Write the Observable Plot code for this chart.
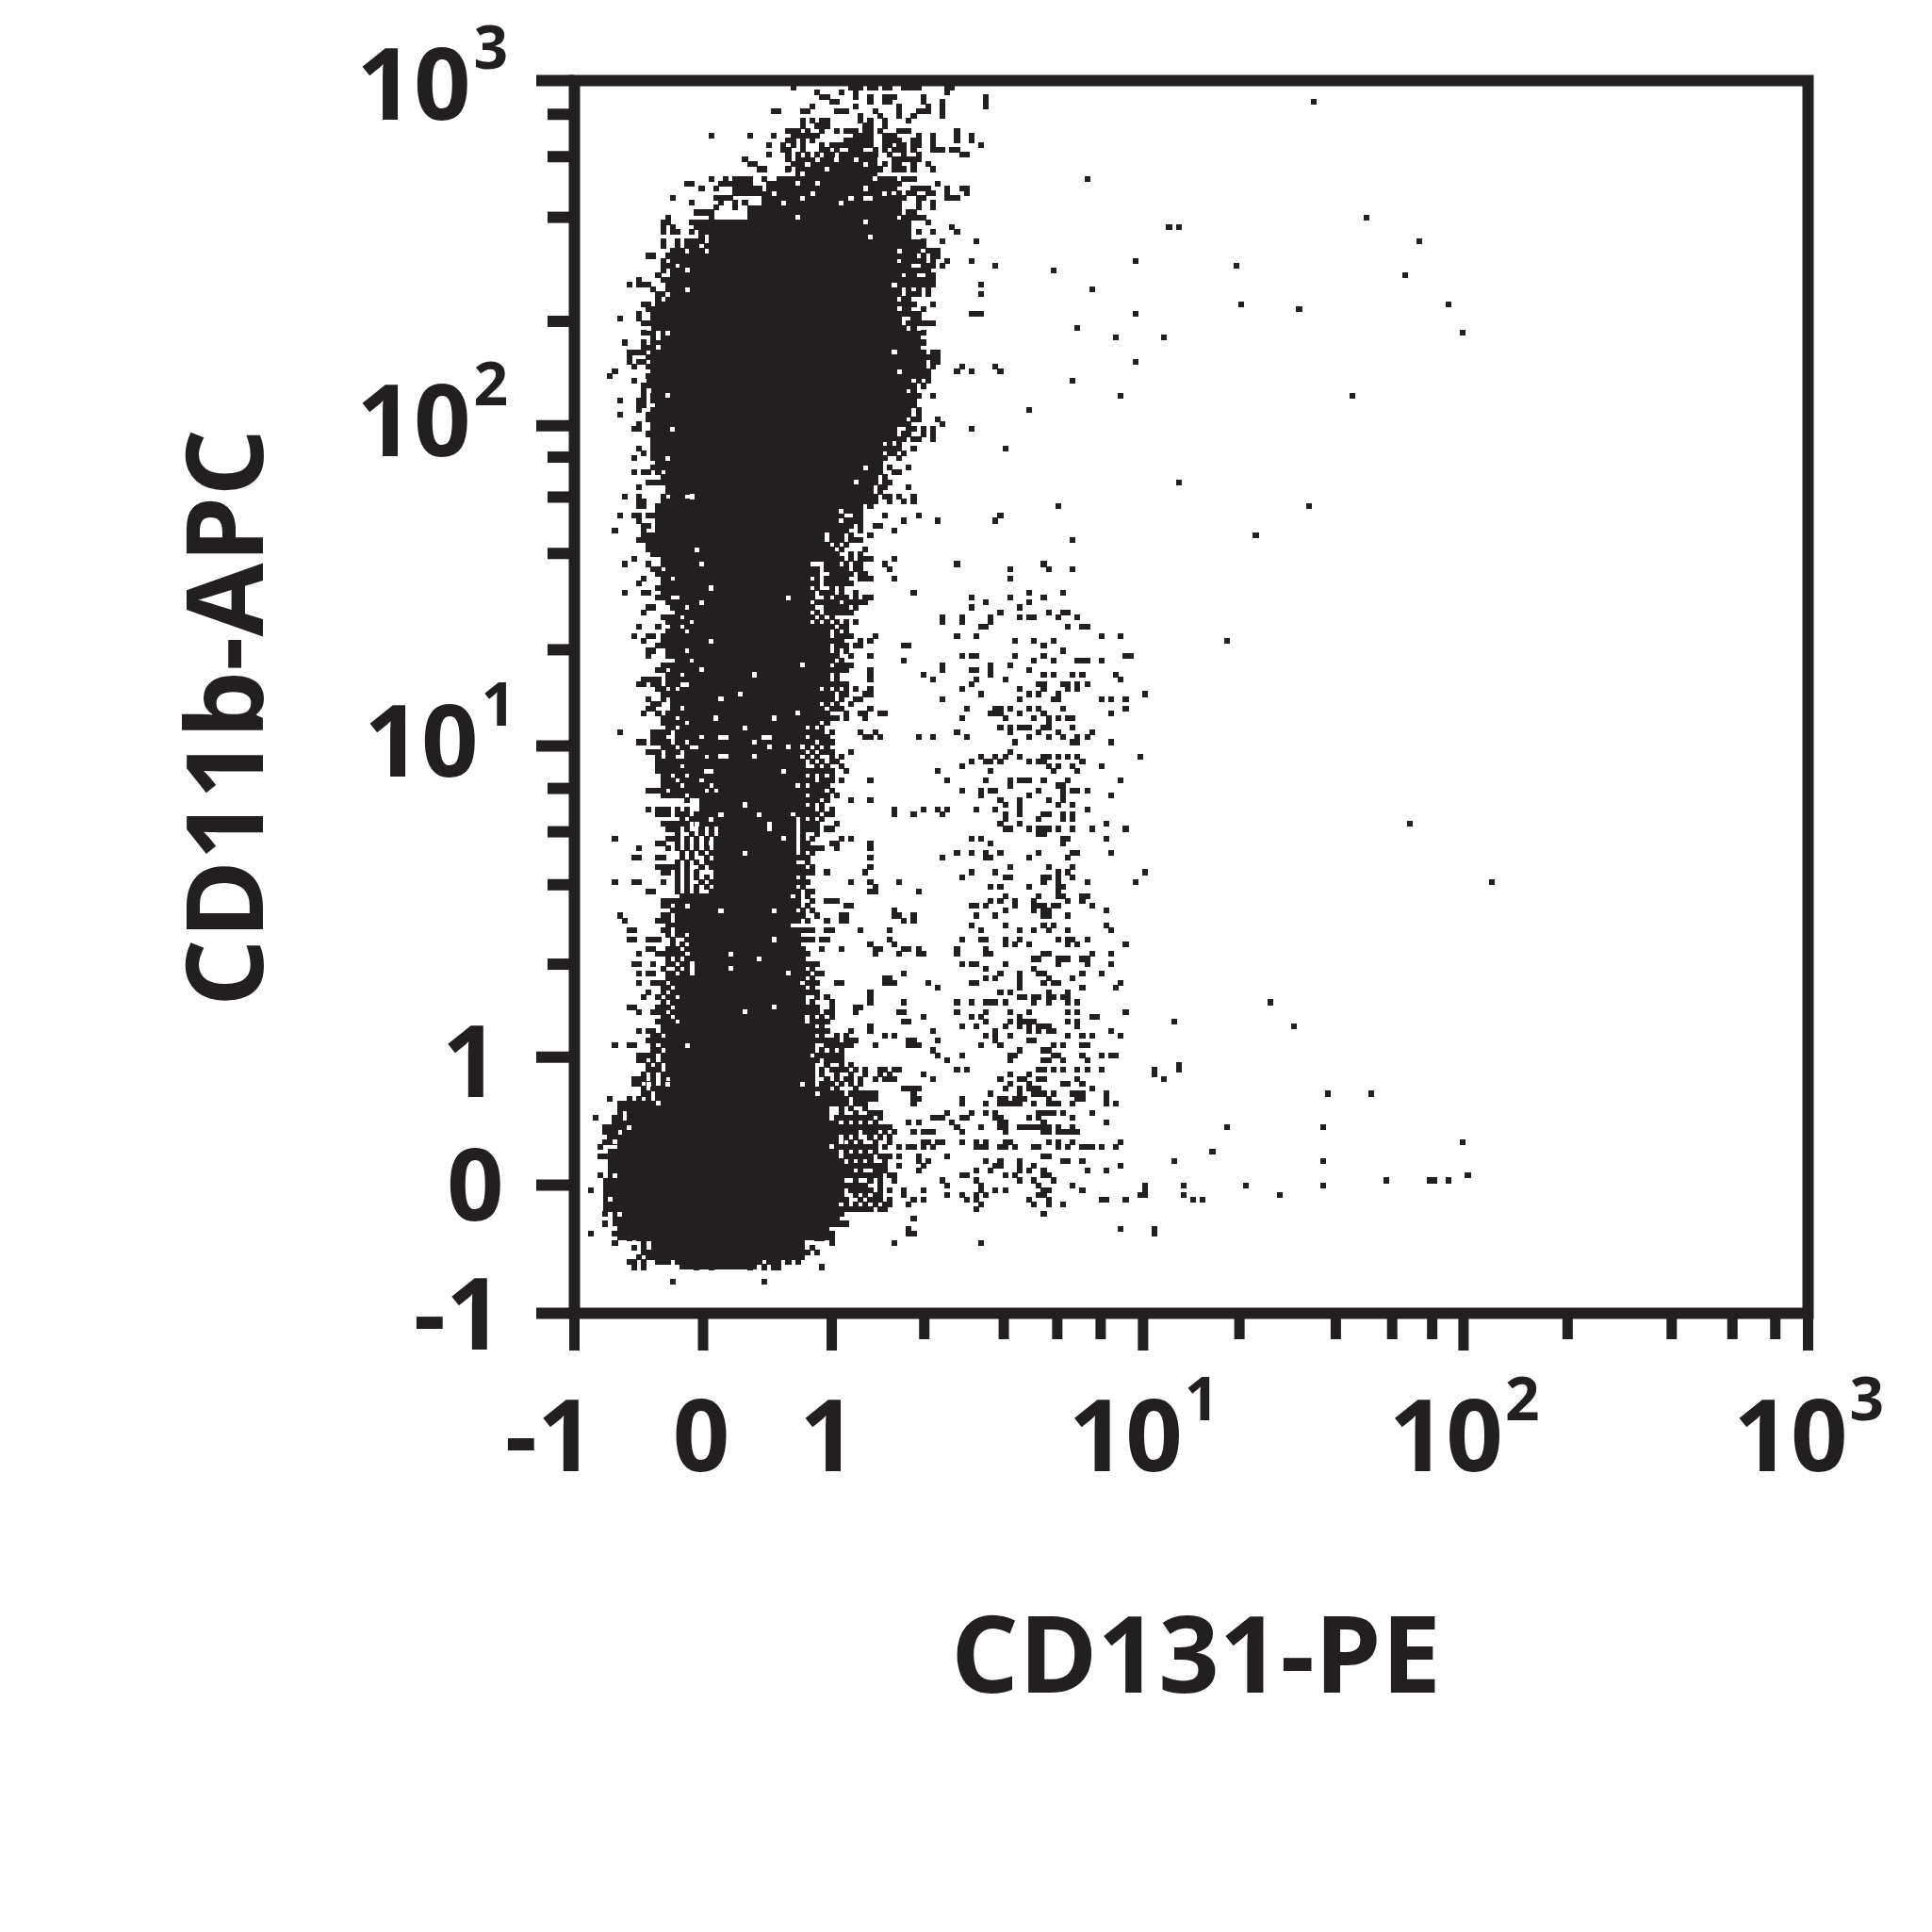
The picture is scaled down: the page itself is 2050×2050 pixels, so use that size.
<!DOCTYPE html>
<html><head><meta charset="utf-8">
<script src="https://cdn.jsdelivr.net/npm/d3@7"></script>
<script src="https://cdn.jsdelivr.net/npm/@observablehq/plot@0.6"></script>
<style>html,body{margin:0;padding:0;background:#fff}svg{display:block}</style>
</head><body><div id="chart"></div>
<script>
// All event positions are instrument channels (0-255) on both axes.
const xMajorTicks=[0,26.7,53.4,118,184.5,256];
const xMinorTicks=[72.6,89.1,100.2,109.2,138,158,169.7,178,206.1,227.7,240.3,249.2];
const yMajorTicks=[0,26.6,53.2,117.8,184.3,256];
const yMinorTicks=[72.5,89,100,109,137.8,157.8,169.5,177.8,206,227.6,240.2,249];
const plainLabels=["-1","0","1"];
const powerBase="10";
const powerExponents=["1","2","3"];

// Solid population core: [top row, bottom row, first column, last column]
const coreBands=[[239,236,46,62],[235,233,41,66],[232,230,39,65],[229,227,36,65],[226,223,28,69],[222,220,28,71],[219,217,22,66],[216,214,21,66],[213,210,20,66],[209,204,18,67],[203,201,18,71],[200,194,17,71],[193,191,15,67],[190,184,18,67],[183,181,18,66],[180,178,18,62],[177,174,20,62],[173,171,21,60],[170,168,24,60],[167,166,22,58],[165,162,22,54],[161,156,22,51],[155,153,23,48],[152,149,24,48],[148,143,26,48],[142,140,26,51],[139,136,28,51],[135,133,27,52],[132,130,28,51],[129,126,22,49],[125,123,24,48],[122,120,25,46],[119,110,29,46],[109,107,30,45],[106,104,26,46],[103,100,31,44],[99,97,30,44],[96,94,29,44],[93,91,28,44],[90,87,29,44],[86,81,22,44],[80,80,19,44],[79,76,25,41],[75,73,24,46],[72,70,25,47],[69,63,22,46],[62,60,22,47],[59,57,20,48],[56,53,19,48],[52,47,20,48],[46,44,18,51],[43,40,11,52],[39,37,10,54],[36,34,9,54],[33,31,7,54],[30,28,7,57],[27,24,6,54],[23,21,6,54],[20,18,8,53],[17,15,9,52],[14,11,16,47],[10,9,22,37]];

// Empty bins inside the core: [row, column]
const coreGaps=[[239,50],[239,54],[239,58],[238,48],[238,60],[237,52],[235,41],[236,45],[236,47],[234,46],[234,50],[232,41],[232,49],[231,38],[231,47],[230,43],[230,55],[231,57],[231,60],[231,61],[235,62],[233,60],[232,64],[227,30],[227,32],[227,35],[227,46],[226,60],[223,61],[216,23],[212,23],[220,67],[213,66],[208,67],[211,19],[204,15],[203,19],[202,17],[200,17],[199,66],[195,67],[191,15],[190,19],[183,20],[177,19],[169,24],[175,60],[172,58],[166,55],[158,25],[155,26],[147,26],[150,28],[148,44],[139,28],[134,47],[133,26],[132,37],[127,30],[128,34],[123,29],[123,41],[124,46],[121,35],[119,30],[119,31],[119,39],[119,40],[118,37],[117,40],[117,44],[117,47],[115,30],[115,31],[115,37],[112,27],[112,28],[112,43],[105,35],[103,30],[103,38],[102,28],[101,40],[101,25],[100,40],[98,26],[97,28],[98,43],[95,35],[92,24],[91,27],[91,28],[83,30],[83,41],[84,23],[77,41],[74,32],[73,38],[71,32],[70,44],[62,35],[63,41],[55,23],[47,47],[47,19],[47,15],[45,50],[43,17],[38,11],[35,8],[34,53],[35,55],[28,8],[23,7],[20,9]];

// Scattered bins, each row written as [row, column, column, ...]
const fringeTop=[[254,45,57,58,59,61,62,64,65,68,69,70,71,77,78],[253,50,55,58,77],[252,51,52,58,61,64,65,66,72,85],[251,53,54,61,64,65,72,76,85],[250,49,58,67,73,76,85],[249,41,42,47,48,54,55,56,62,67,71,72,73,76],[248,59,63,67,70,76],[247,47,49,51,52,59,61,64,69],[246,47,50,51,52,60,61,64],[245,44,45,46,48,51,54,56,57,58,60,61,63,67,68,69,79],[244,28,36,41,45,46,47,48,49,50,58,59,60,61,64,65,66,71,74,79,82],[243,44,45,47,49,56,57,58,59,60,61,64,65,66,67,70,71,74,79,82],[242,40,43,45,47,51,53,54,55,56,57,58,59,60,61,64,65,67,68,70,71,74,84],[241,43,44,47,51,52,54,57,58,59,62,64,66,67,68,70,74,75,76,78,79],[240,40,44,46,48,50,52,53,55,56,57,58,59,60,61,62,65,68,71,80,81],[239,35,44,66,67,68,69,70,71],[238,36,37,45,64,66,67,70,73],[237,38,39,44,63,66,67,68,70,74],[235,28,31,33,34,35,36,39,68,69,70],[234,23,24,30,31,32,33,34,35,36,40,67,75],[233,26,29,33,34,35,36,37,38,40,70,71,72,73,77,80,81],[232,33,34,35,36,37,38,67,69,70,73,74,77,81],[231,20,29,30,31,32,66,67,68,71,72,77,78,79],[230,24,30,33,35,66,67,71,74],[229,29,33,66,67,71,74],[228,25,26,27,28,66,67,69,70],[227,19,28,66,68,69,70,71,72],[226,18,19,24,25,27,73],[225,18,20,25,26,78],[224,18,20,21,26,71,74,79],[222,18,21,24,25,72,76,83],[221,18,21,23,24,72],[220,20,21,24,26,73,74,75],[219,15,16,20,67,68,74,75],[218,18,69,70,77,82],[217,18,67,68,72,76,87],[216,18,67,68,69,70,71,72],[214,13,18,19,68,69,71,72,73,74],[213,11,13,14,15,68,70,73,74,84],[211,17,18,69,73,84],[209,14,15,68,74],[208,15,16],[207,13,68,69,82,83,84],[206,9,13],[205,14,15,16,17,69,72,73,74],[203,14,15,16,72],[201,10,14,72],[199,11,12,13,14,74,75],[198,11,73,74,75],[197,11,13,14,74,75],[196,12,80,87],[195,8,72,79,82,88],[194,7,72],[193,12],[192,14,15,68,69],[190,14,68,71,74],[189,9,13,14,68],[188,13,14,69],[187,13,68,71],[186,9,15,16,71],[185,15,16,17,75],[184,13,76],[183,12,13,72,74,82],[182,15,16,17,74],[181,17,64,65,67,68,74],[179,13,17,64,65,66,89],[178,14,61,62],[177,12,17,18],[175,18,62,69],[174,12,14,15,62,67],[172,15,16,17,59,65],[171,13,69],[169,10,13,59,64,67,70],[168,13,14,18,68,70]];

const fringeMiddle=[[167,13,14,18,19,20,56,59,61],[166,19,20,55,58,59],[165,9,12,13,15,18,19,59,64,71,88],[164,13,17,18,52,56,57,58,59,68,75],[163,14,15,19,55,56,57,59,62,63],[162,8,14,20,21,54,55,59,66],[161,14,15,16,17,18,19,53,54,61],[160,13,14,15,16,17,20,21,53,54,57,58,59],[158,15,16,17,19,20,21,52,60],[157,20,52,53],[156,12,18,20,21,53,54,57,59,60,61,66],[155,10,15,18,19,21,22,52,53,59,64,79],[154,22,52,53,54,55,59,65],[153,17,18,21,53,54,56,59,60],[152,14,19,21,22,23,53,54,55,56,59,60,61,66],[151,13,18,19,52,53,55,56],[150,20,21,22,23],[149,10,14,15,18,21,51,53,58,70],[148,17,18,19,54,55,60,61,82],[147,19,20,21,51,52,54,56,57,59,60,85],[146,15,16,20,21,52,54,55,56,58,82],[145,14,21,22,52,53,54,55,56,88],[143,19,20,21,58,76,80,86],[142,13,17,20,21,53,55,56,85,84],[140,12,15,16,18,19,20,21,22,23,24,54,55,56,57,62,79,83],[139,14,18,21,22,25,52,54,59,61],[138,17,19,20,21,23,24,54,55,59,68,69],[137,15,16],[136,15,21,22,53,54,57,61,80,82,83],[134,18,19,20,21,22,55,57],[133,17,18,20,21,54,56,61,76],[131,14,15,19,20,61],[130,13,14,52,53,54,55,56],[128,18,19,50,51,53,55,56,60,61],[127,15,21,50,51,52,53,55,58,59],[125,15,20,23,49,50,53,54,61],[124,14,17,19,20,49,50,51,56,59,60,63,64],[123,18,19,50,51,53,56,60],[122,18,19,20,21,22,48,50],[120,9,16,17,18,19,47,48,50,53,59,62],[119,16,17,18,21,49,51,60,63,71,74],[118,13,14,16,17,18,19,21,48,51,52],[116,15,16,17,20,21,52,53,57],[114,17,18,20,21,22,53,54],[112,17,21,47,48,49,50,52,53,56],[110,19,47,48,52,53,55,61],[109,18,19,20,21,23,49,50,52],[108,15,16,17,18,46,47,48,49,50],[107,45,46,49,50,52,54],[106,23,47,48,49,57,61],[104,15,17,18,19,21,23,47,48,53,66,72,75],[103,17,18,19,21,22,23,25,46,47,48,49,53],[101,18,19,21,23,25,26,47,48,49,54],[100,19,20,47,49,50,52,53],[98,8,19,20,21,55,57],[97,17,18,47,53,54],[96,13,19,47,48,49,50,51,54,61],[94,12,13,17,18,46,47],[92,17,18,19,20,45,46,61],[91,18,19,45,46,47,48,49,52,60],[89,8,12,13,18,45,46,47,57,61,67],[87,15,16,45,49,62],[85,18,20,45,52,53,54],[84,18,19,45,56,57],[82,9,18,45,46,50,55,56,66],[81,10,17,18,45,52,55,56,68,70]];

const fringeLower=[[79,11,12,18,22,47,48,49,52,53,59,65],[77,11,12,15,16,17,46,47,48,49,51,52,65,85],[75,15,16,19,20,47,51,55,62,63,68,69,71,79,85],[74,13,17,18,19,20,47],[72,12,13,16,48,49],[70,13,15,16,19,50,51,68],[68,13,16,17,48,49,50,54,55,64,65],[66,15,47,48,49],[65,14,52],[63,11,12,17,18,47,49,50,53,58,59],[62,13,16,17,20,21,49,52,53,58,67,68],[60,18,19,50,51,52,68,69],[58,13,15,16,50,51,57],[56,15,16,17,49,51,52,53,56,57,58],[55,8,11,12,53,54,55,56,62,70,71],[53,13,14,15,16,50,51,52,53,55],[52,13,14,49,50,52,53,54],[50,15,16,53,54,55,63,64,66],[48,12,13,14,54,56,57,59,62,64,65],[47,12,13,15,51,53,59],[45,14,52,53,54,57,59,60],[44,7,53,55,56,58,60],[43,10,53,54,55,56,59],[40,4,9,54,55,56,57,58,59],[38,7,8,55,56,57,58,60],[37,6,7,55,56,57],[34,5,55,57,59,60],[32,5,6,56,57,58,59],[30,58,60],[28,5,58,59,60],[26,56,57,58,59],[25,3,55,58,60],[23,55,56,59],[21,55,56,57,58,59,60],[20,6,54],[18,6,55,56],[16,3,8,50,69,70],[15,11,13,15,50,51],[14,8,14,53,66,84],[12,14,15,16,47],[10,11,12,14,17,18,19,36,37,40,41,46],[9,12,25,28,36,42,51],[6,20,39]];

const clusterUpper=[[154,65,90,98,103],[152,66,61,90],[149,70,94,101],[148,82,90,97,61],[147,85,94],[146,82,92],[145,88,98,101,102],[144,76,80,86,92,94,95,100,104],[142,85,102,105,106],[140,62,79,83,109,113],[139,91,95,99],[138,97,68,69],[137,101],[136,61,80,82,83,91,97,114,115],[135,68,95,99,104,105,106,109],[134,76,86,90],[133,76,82,83,86,94],[132,61,72,86,97,99,103,105,112],[131,74,83,89,113],[130,82,96,97,101,102,104,106],[129,61,80,92,97,102,104],[128,84,94,96,100,118],[127,76,92,99,109,111,114,100],[125,61,81,88,87,90,94,96,101,114],[124,63,64,86,87,88,92,97,111],[123,80,89,95,98,100,102,103],[122,98],[121,88,90,92,93,94,97,98,103],[120,90,96,100,79,107],[119,61,71,74,81,94,98,101,104,106],[118,91,103,104,111],[116,90],[115,84,87,89,92,97,98,100,102,104,117],[114,82,85,86,88,94,96,97,105],[113,80,98,100,103,109],[112,86,75,99,104],[110,61,77,85,90,92,93,94,97,102,113],[109,90,100,101],[108,80,84,86,87,96,101,103,104,106],[107,94,111,84,101],[106,61,88,92,98,101],[105,89,92,100,103],[104,75,77,83,87,106,92],[103,66,70,76,89,92,97,98,101,103],[102,89,96,101,103],[101,88,92,110],[100,89,90,94,96,97,98,100,103,107,114],[99,96,97],[98,82,84,101,102,110],[97,86,61,101],[95,79,82,85,88,96,103,104,111],[94,86,61,76,85,94,102],[92,90,98,103],[91,82,87,100,102,118],[90,80,89,90,97,98,100,103],[89,67,97,100,106,116],[88,62,86,88,94,100,101],[87,71,61,100],[86,89,96,100,101,105,106],[85,86,88,91,95,102,105],[84,82,83,85,91,95,96,97,99,100,107],[83,66,95,97,98,89,110],[82,67,70,83,87,97,98,102],[80,82,89,97,99,110],[79,65,84,92,95,98,111,102],[77,80,84,89,92,100,102,103,106]];

const clusterLower=[[76,61,66,89,91,94,102,104,114],[74,62,67,71,72,79,85,86,98,97,107,111],[73,95,96,100,101,102,105,106],[72,80,82,83,89,100,106,111],[71,85,95],[70,68,88,92,96,97,105,109],[69,64,65,85,87,92,98,103],[68,66,73,82,83,92,97,99,100,113],[67,75,92,105,112],[66,61,88,90,98,102],[65,61,92,93,95,96,98,99,101,102],[64,61,68,79,82,85,86,87,89,95,98,102,104],[62,67,79,85,90,94,102,104,114],[61,72,82,84,92,107,108],[60,68,69,85,90,92,93,94,95,102,104,124],[59,61,80,83,89,92,94,96,97,98,104],[58,61,74,94,96,98,99,111,87],[57,64,66,85,87,90,102,105,107,113],[56,69,70,75,87,94,95],[55,62,69,70,71,84,88,99,101,105,106],[54,74,92,97,98],[53,75,80,90,91,99,100,105,109,111,112],[52,77,90,97,98,101,106],[50,63,64,67,79,81,96,97,99,101,104,106,109,120,125],[49,63,65,72,90,94],[48,62,64,66,74,88,92,93,96,97,104,122],[47,90,94,101,102,105],[46,68,69,70,71,89,92,94,95,96,107],[45,61,62,70,86,92,95,96,97,99,103,104,105,110],[44,61,70,71,80,88,89,91,92,93,98,104,105,110],[43,70,80,85,88,89,90,91,92,95,98,99,100,103,110,112],[41,62,63,77,82,85,87,96,97,98,99,101,107],[40,61,63,74,75,76,80,81,87,88,94,96,103],[39,62,69,71,78,88,89,97,110],[38,61,62,63,64,79,84,88,89,92,93,94,95,96,97,98,100,103],[37,61,66,70,72,73,74,80,89,97,98,100,101,102,103,104],[35,62,65,72,73,75,76,80,83,85,89,90,98,100,103,113],[34,61,64,69,70,72,74,83,84,85,88,89,91,95,96,100,102,109,67,105,106,107,112],[32,61,64,65,67,71,77,97,98],[31,71,73,85,88,92,101,102,105],[30,63,64,72,61,87,88,92,95,113],[29,63,64,71,83,86,92,94,97,106,110],[28,61,62,66,80,81,89,91,97,98],[27,76,83,92,95,99],[26,77,84,96,103,118],[25,61,68,72,84,87,89,98,97,105],[24,63,68,77,80,83,85,96,97,118],[23,62,70,72,81,83,94,98,109,110,114],[22,62,65,69,84,95,98,101],[21,61,63,83],[20,97],[19,70],[17,69,113],[16,120]];

const sparseEvents=[[251,153],[235,106],[227,164],[225,123,125],[222,175],[218,116],[217,137],[216,99],[215,172],[212,107],[209,138,181],[208,150],[207,116],[204,104],[203,184],[202,112,122],[197,116],[193,103],[190,113,161],[187,94],[172,125],[167,100,152],[164,87],[161,141],[160,103],[155,97],[154,103],[139,135],[101,173],[89,190],[64,144],[60,124],[59,149],[51,125],[49,120],[45,156,165],[38,135,155],[35,184],[33,132],[31,124,155],[28,185],[27,168,177,178,181],[26,126,139,155],[25,118],[24,117,126,146],[23,128,130],[17,113,120]];

// Dense edges of the populations, estimated row by row
const upperLeftEdge=[[226,26],[225,27],[224,24,27],[223,26],[222,23,26],[221,25,27],[220,22,25],[219,19,21],[218,20,21],[217,19,20],[216,20],[215,17,20],[214,20],[213,19],[212,16,19],[211,19],[210,17,19],[209,17],[208,17],[207,16,17],[206,16,17],[204,16,17],[203,16],[202,16],[201,16,17],[200,14,15,16],[199,16],[198,15,16],[197,16],[196,15,16],[195,16],[194,15,16],[192,16,17],[191,14],[190,16,17],[189,16,17],[188,17],[187,16,17],[186,17],[184,16,17],[183,16,17],[181,16],[180,16,17],[179,16],[178,16,17],[177,16],[176,17,18,19],[175,16,17,19],[174,17,19],[173,18,19,20],[172,18,19,20],[171,19,20],[170,19,20,21,22,23],[169,18,20,21,22],[168,19,20,21,22,23]];

const upperRightEdge=[[219,69,70,72],[218,68,71,72,74],[217,69,73,74],[216,73],[215,67,69,70,73,74],[214,67,70],[213,67,69,71,72],[212,67,69,71,73],[211,67,70,71],[210,68,69],[209,69,70],[208,68,69,72],[207,70,71],[206,70,71],[205,70,71],[204,68,70],[199,72],[198,72],[197,72],[196,72,74],[195,68,70,73],[194,69,70,73],[193,68,69,71,73],[192,70,72],[191,68,70],[190,69,70],[189,69,70],[188,68,70],[187,69],[186,68,69],[185,68,70,71],[184,68,69],[183,69,70],[182,68,69,72],[181,70,71],[180,63,65,67],[179,63,67,70],[178,63,65,66,68],[177,63,64,67],[176,63],[175,63,65],[174,63,66],[173,61,62,64],[172,61,62,64],[171,61,63,64],[170,61,63],[169,61,62,65],[168,61,62,65]];

const stemLeftEdge=[[167,17,21],[166,17,18,21],[165,16,17,20,21],[164,19,20,21],[163,17,18,20,21],[162,17,18,19],[161,20,21],[160,18,19],[159,15,16,17,18,19,20,21],[158,18],[157,16,17,18,19,21],[156,19],[155,20],[154,16,17,19,20,21],[153,19,20,22],[152,18],[151,20,21,22,23],[150,17,18,19],[149,19,20,22,23],[148,22,23,24,25],[147,22,23,24,25],[146,22,24,25],[145,23,24,25],[144,18,19,20,21,23,24,25],[143,22,23,25],[142,23,24,25],[141,19,20,21,22,24,25],[140,25],[139,19,20,23,24,26,27],[138,18,22,25,26,27],[137,19,20,21,22,24,25,26,27],[136,19,20,23,24,25,26,27],[135,21,22,23,25,26],[134,23,24,25,26],[133,22,23,24,25,26],[132,19,20,21,23,24,25,26,27],[131,16,17,21,22,23,24,25,26,27],[130,16,17,19,20,21,24,25,26,27],[129,17,18,20],[128,20,21],[127,18,20],[126,16,17,20,21],[125,16,21],[124,21,22,23],[123,20,22,23,24],[122,24],[121,19,20,22,23,24,27,28],[120,21,22,23,24,26,27,28],[119,22,23,24,25,27,28],[118,22,24,25,26,27,28],[117,18,19,20,22,23,26,27,28],[116,19,23,24,25,26,27,28],[115,17,19,20,23,24,25,26,28],[114,19,23,24,25,26,27,28],[113,17,18,19,20,21,23,24,25,26,27,28],[112,18,19,20,22,23,24,25,26],[111,18,19,21,22,24,25,26,27,28],[110,18,20,22,23,24,25,27,28],[109,24,25,26,27,29],[108,20,21,22,23,24,25,26,28],[107,18,19,20,21,22,24,25,26,27,28,29],[103,26,27,28,29,30],[102,22,24,25,26,27,29,30],[101,20,22,27,28,29,30],[100,21,23,26,28,30],[99,21,24,26,28],[98,23,25,27,29],[97,21,23,25,27,29],[96,21,23,25,27],[95,22,24,26,28],[94,22,24,27],[93,21,23,25,27],[92,21,23,26],[91,21,23,25],[90,21,23,25,27],[89,21,23,26,28],[88,21,23,25,27],[87,21,23,25,28],[85,19,21],[84,21],[83,20,21],[82,19,21],[81,19,21],[79,19,21,23,24],[78,19,21,22,24],[77,20,23,24],[76,20,22,24]];

const stemRightEdge=[[165,55,58],[162,56],[161,55,57],[160,55],[159,52,54,56],[158,53,55],[157,54,57,59],[156,52,55],[155,54,56,58],[154,49,50,56,58],[153,49,50,55,57],[152,50,52],[151,49,50,54,57],[150,50,53,55],[149,49,52,55],[148,49,52,56,58],[147,50,53,58],[146,49,53],[145,50,57],[144,49,51,53],[143,50,52,54,56],[142,52],[141,52,54,56],[140,52],[139,53,55],[138,52,56,58],[137,52,54,56],[136,52],[135,53,55],[134,52,54,56],[133,53,55],[132,52,54],[131,52,54],[129,50,52,54,56,58],[128,52],[126,50,52,54,57],[125,51,55],[124,52],[123,49,52,54],[122,47,49,52],[121,47,49,51],[120,49,51],[119,47,50,52],[118,47,49,53],[117,48,50,52],[116,47,49,51],[115,48,50,53,55],[114,47,49,51],[113,47,50,52,55],[112,51],[111,47,49,51,53],[110,49,51],[109,47,51],[108,51,53],[107,47,51],[106,50,52],[105,47,49,51],[104,49,51],[103,50,52],[102,45,47,49,51],[101,45,50],[100,45,48],[99,45,47,50],[98,45,47,49],[97,45,48],[96,45],[95,45,47,49],[94,45,48],[93,45,48],[92,47,49],[90,45,47],[89,48],[88,45,47],[87,46,48],[86,46,48],[85,46,49],[84,46,48],[83,45,47,49],[82,47],[81,46,48]];

const lowerLeftEdge=[[75,21,23],[74,21,22],[73,19,21,23],[72,19,20,22,23],[71,18,21,23],[70,20,22,23],[69,19,20,21],[68,18,20,21],[67,18,19,21],[66,18,20,21],[65,17,19,20],[64,18,20,21],[63,19,21],[62,18,21],[61,18,19,21],[60,17,20],[59,18,19],[58,18,19],[57,16,17,19],[56,18],[55,16,18],[54,16,17],[53,18],[52,16,18,19],[51,15,17,19],[50,17,19],[49,14,16,18,19],[48,16,18],[47,16,18,19],[46,14,16,17],[45,15,17],[44,11,13,15,17],[43,9],[42,9,10],[41,9],[40,8],[39,8,9],[38,6,9],[37,8],[36,7,8],[35,6,7,8],[13,12,14],[11,13,15],[10,17,19,21],[9,14]];

const lowerRightEdge=[[79,42,43,44,45,46],[78,42,43,44,45,46],[77,42,43,44,45,46],[76,42,43,44,45,46],[75,47],[74,48],[73,47],[72,47,50],[71,47,49],[70,47,48],[69,47,49],[67,47,49],[66,50],[65,47,50],[64,47,49,53],[63,48,50],[62,48,50],[61,49,51,53],[60,49],[59,49,51],[58,49,52],[57,49,51,54,56],[56,50,54],[55,49,52,57],[54,49,51,53,55],[53,54],[52,55],[51,49,52,55,57],[50,49,51,56,58,60],[49,49,51,54,57,60],[48,49,52],[47,49,52,55,57],[46,52,54,58],[45,55,58],[44,52,54,59,62],[43,58,60],[42,55,57,60],[41,55,58,61],[40,60,63],[39,56,58,60,62],[38,59,62,65],[37,58,60,62,64],[36,56,58,61,63,65],[35,55,57,59,62],[34,56,58,62,64],[33,56,58,60,62],[32,60,63,65],[31,55,57,59,61,64],[30,59,62,64,67],[29,55,57,59,62,64],[28,56,63,65],[27,55,58,61,63,66],[26,55,60,63],[25,57,59,63,65],[24,55,58,60,62],[23,61,63,65],[22,56,58,60,64],[21,61,64],[20,55],[19,54],[18,53,54],[16,53],[15,53],[13,49],[12,48,50],[10,38,42,44],[9,39,41]];

const ink="#231f20";
const toCells=rows=>rows.flatMap(([y,...xs])=>xs.map(x=>({x,y})));
const events=[fringeTop,fringeMiddle,fringeLower,clusterUpper,clusterLower,sparseEvents,upperLeftEdge,upperRightEdge,stemLeftEdge,stemRightEdge,lowerLeftEdge,lowerRightEdge].flatMap(toCells);
const gaps=coreGaps.map(([y,x])=>({x,y}));
const font="'Open Sans', sans-serif";
const textBase={fill:ink,fontFamily:font,fontWeight:700,lineAnchor:"bottom"};
const tickSize=106, supSize=64, titleSize=113;

const marks=[
  Plot.rect(coreBands,{x1:d=>d[2],x2:d=>d[3]+1,y1:d=>d[1],y2:d=>d[0]+1,fill:ink,shapeRendering:"crispEdges"}),
  Plot.rect(events,{x1:"x",x2:d=>d.x+1,y1:"y",y2:d=>d.y+1,inset:-0.5,fill:ink,shapeRendering:"crispEdges"}),
  Plot.rect(gaps,{x1:"x",x2:d=>d.x+1,y1:"y",y2:d=>d.y+1,fill:"#fff",shapeRendering:"crispEdges"}),
  Plot.frame({stroke:ink,strokeWidth:12}),
  Plot.axisX({ticks:xMajorTicks,tickSize:40,fill:"none",stroke:ink,strokeWidth:11,label:null,anchor:"bottom"}),
  Plot.axisX({ticks:xMinorTicks,tickSize:28,fill:"none",stroke:ink,strokeWidth:11,label:null,anchor:"bottom"}),
  Plot.axisY({ticks:yMajorTicks,tickSize:40,fill:"none",stroke:ink,strokeWidth:12,label:null,anchor:"left"}),
  Plot.axisY({ticks:yMinorTicks,tickSize:28,fill:"none",stroke:ink,strokeWidth:12,label:null,anchor:"left"}),
  // x tick labels
  Plot.text([plainLabels[0]],{...textBase,x:()=>xMajorTicks[0],text:d=>d,frameAnchor:"bottom",dy:167,dx:21,textAnchor:"end",fontSize:tickSize}),
  Plot.text([plainLabels[1]],{...textBase,x:()=>xMajorTicks[1],text:d=>d,frameAnchor:"bottom",dy:167,dx:-2,textAnchor:"middle",fontSize:tickSize}),
  Plot.text([plainLabels[2]],{...textBase,x:()=>xMajorTicks[2],text:d=>d,frameAnchor:"bottom",dy:167,dx:-4,textAnchor:"middle",fontSize:tickSize}),
  Plot.text(xMajorTicks.slice(3),{...textBase,x:d=>d,text:()=>powerBase,frameAnchor:"bottom",dy:167,dx:42,textAnchor:"end",fontSize:tickSize}),
  Plot.text(xMajorTicks.slice(3),{...textBase,x:d=>d,text:(d,i)=>powerExponents[i],frameAnchor:"bottom",dy:113,dx:44,textAnchor:"start",fontSize:supSize}),
  // y tick labels
  Plot.text([plainLabels[0]],{...textBase,y:()=>yMajorTicks[0],text:d=>d,frameAnchor:"left",dx:-76,dy:38,textAnchor:"end",fontSize:tickSize}),
  Plot.text([plainLabels[1]],{...textBase,y:()=>yMajorTicks[1],text:d=>d,frameAnchor:"left",dx:-75,dy:37,textAnchor:"end",fontSize:tickSize}),
  Plot.text([plainLabels[2]],{...textBase,y:()=>yMajorTicks[2],text:d=>d,frameAnchor:"left",dx:-80,dy:42,textAnchor:"end",fontSize:tickSize}),
  Plot.text([yMajorTicks[3]],{...textBase,y:d=>d,text:()=>powerBase,frameAnchor:"left",dx:-102,dy:32,textAnchor:"end",fontSize:tickSize}),
  Plot.text([yMajorTicks[3]],{...textBase,y:d=>d,text:()=>powerExponents[0],frameAnchor:"left",dx:-99,dy:-22,textAnchor:"start",fontSize:supSize}),
  Plot.text([yMajorTicks[4]],{...textBase,y:d=>d,text:()=>powerBase,frameAnchor:"left",dx:-110,dy:32,textAnchor:"end",fontSize:tickSize}),
  Plot.text([yMajorTicks[4]],{...textBase,y:d=>d,text:()=>powerExponents[1],frameAnchor:"left",dx:-107,dy:-22,textAnchor:"start",fontSize:supSize}),
  Plot.text([yMajorTicks[5]],{...textBase,y:d=>d,text:()=>powerBase,frameAnchor:"left",dx:-110,dy:41,textAnchor:"end",fontSize:tickSize}),
  Plot.text([yMajorTicks[5]],{...textBase,y:d=>d,text:()=>powerExponents[2],frameAnchor:"left",dx:-107,dy:-13,textAnchor:"start",fontSize:supSize}),
  // axis titles
  Plot.text(["CD131-PE"],{...textBase,text:d=>d,frameAnchor:"bottom",dy:402,dx:5,textAnchor:"middle",fontSize:titleSize}),
  Plot.text(["CD11b-APC"],{...textBase,text:d=>d,frameAnchor:"left",rotate:-90,dx:-331,dy:22,textAnchor:"middle",fontSize:titleSize})
];

const chart=Plot.plot({
  width:2050,height:2050,
  marginLeft:609,marginRight:132,marginTop:85,marginBottom:657,
  style:{background:"#fff",overflow:"visible"},
  x:{type:"linear",domain:[0,256]},
  y:{type:"linear",domain:[0,256]},
  marks
});
document.getElementById("chart").append(chart);
</script>
</body></html>
